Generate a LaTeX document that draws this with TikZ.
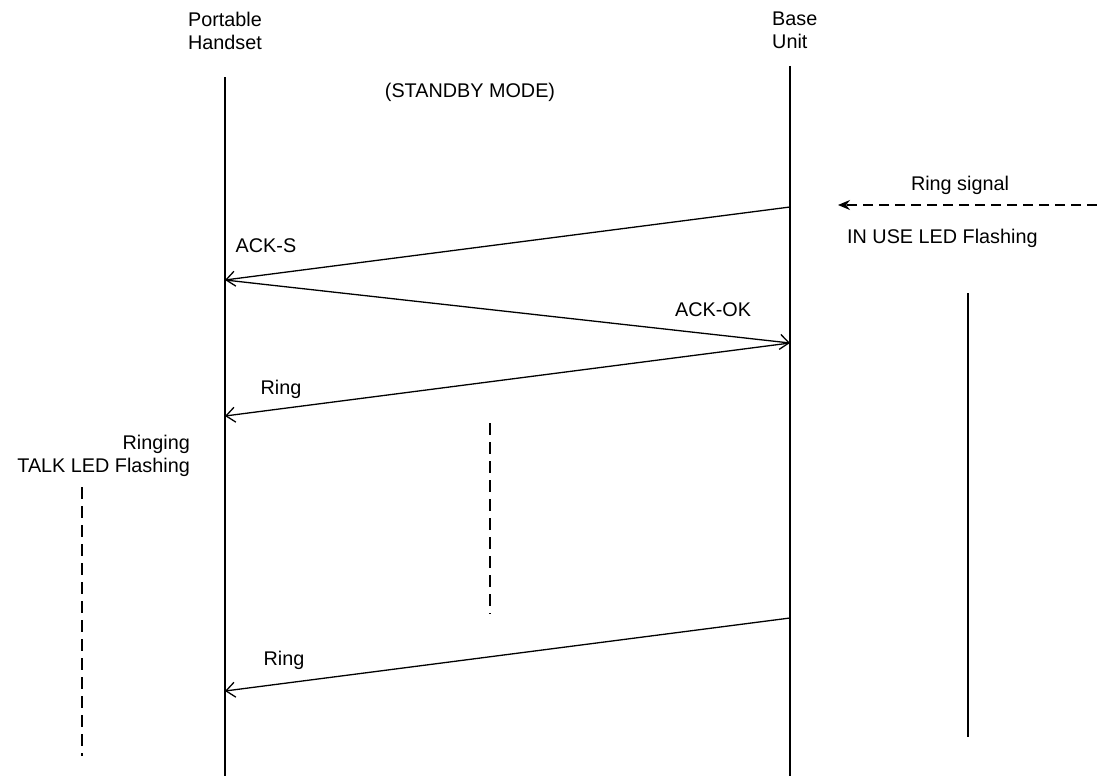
\documentclass[tikz,border=0pt]{standalone}
\usepackage{fontspec}
\setmainfont{Liberation Sans}
\usetikzlibrary{arrows.meta}
\begin{document}
\begin{tikzpicture}[x=1pt,y=-1pt,
  lbl/.style={font=\fontsize{19.8}{23}\selectfont, inner sep=0pt},
  life/.style={line width=2.4pt},
  msg/.style={line width=1.3pt, -{Straight Barb[length=9pt,width=15pt,line width=1.3pt]}},
  dashv/.style={line width=2pt, dash pattern=on 12pt off 7pt},
  sigarrow/.style={line width=1.3pt, dash pattern=on 10pt off 6pt, -{Stealth[length=12pt,width=10pt]}}]
\useasboundingbox (0,0) rectangle (1097,776);
% headers
\node[lbl, align=center] (hs) at (225,31) {Portable\\Handset};
\node[lbl, align=left, anchor=west] (bu) at (772,30) {Base\\Unit};
\node[lbl] (sb) at (470,92) {(STANDBY MODE)};
% lifelines
\coordinate (hTop) at (225,77);
\coordinate (hBot) at (225,776);
\coordinate (bTop) at (790,66);
\coordinate (bBot) at (790,776);
\draw[life] (hTop) -- (hBot);
\draw[life] (bTop) -- (bBot);
% message points
\coordinate (b1) at (790,207);
\coordinate (h1) at (225,280);
\coordinate (b2) at (790,343);
\coordinate (h2) at (225,416);
\coordinate (b3) at (790,618);
\coordinate (h3) at (225,691);
\draw[msg] (b1) -- (h1);
\draw[msg] (h1) -- (b2);
\draw[msg] (b2) -- (h2);
\draw[msg] (b3) -- (h3);
\node[lbl] (ackS) at (266,246) {ACK-S};
\node[lbl] (ackOK) at (713,310) {ACK-OK};
\node[lbl] (ring1) at (281,389) {Ring};
\node[lbl] (ring2) at (284,660) {Ring};
% ring signal
\coordinate (sigR) at (1097,205);
\coordinate (sigL) at (838,205);
\draw[sigarrow] (sigR) -- (sigL);
\node[lbl] (rs) at (960,185) {Ring signal};
\node[lbl, anchor=west] (inuse) at (847,238) {IN USE LED Flashing};
\coordinate (iuTop) at (968,293);
\coordinate (iuBot) at (968,737);
\draw[line width=2.4pt] (iuTop) -- (iuBot);
% handset side
\node[lbl, anchor=east, align=right] (rg) at (190,456) {Ringing\\TALK LED Flashing};
\coordinate (ldTop) at (82,487);
\coordinate (ldBot) at (82,756);
\draw[dashv] (ldTop) -- (ldBot);
\coordinate (mdTop) at (490,423);
\coordinate (mdBot) at (490,614);
\draw[dashv] (mdTop) -- (mdBot);
\end{tikzpicture}
\end{document}
